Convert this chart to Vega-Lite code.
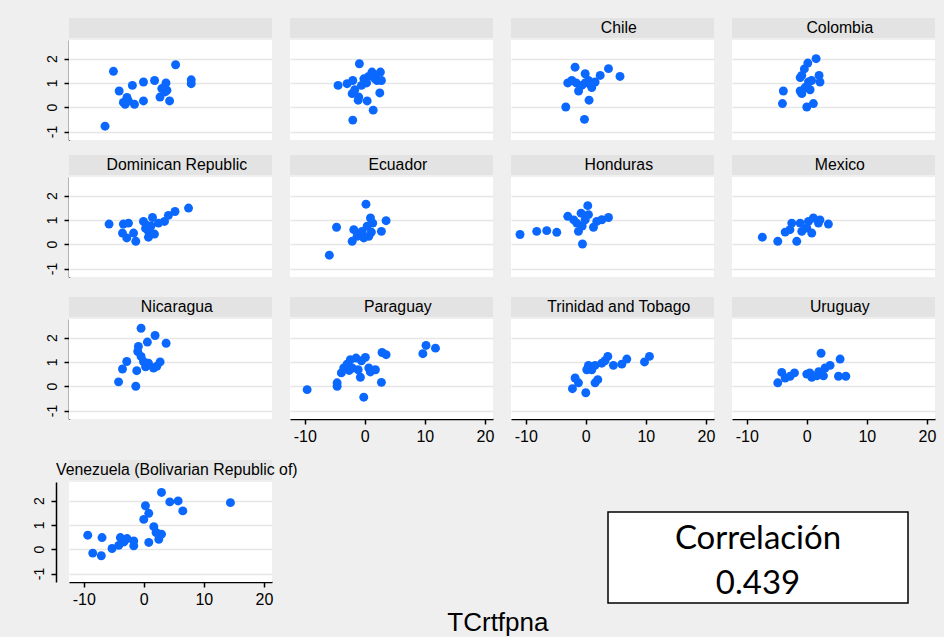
{
  "$schema": "https://vega.github.io/schema/vega-lite/v6.json",
  "background": "#efefef",
  "padding": {"left": 32, "top": 16, "right": 8, "bottom": 1},
  "title": {"text": "TCrtfpna", "orient": "bottom", "anchor": "middle", "font": "Liberation Sans", "fontSize": 26, "fontWeight": "normal", "color": "#000", "offset": 3, "dx": 14},
  "config": {
    "view": {"fill": "white", "stroke": null},
    "header": {"title": null, "labelExpr": "''", "labelFontSize": 1, "labelPadding": 0},
    "axis": {"domainColor": "#000", "domainWidth": 1.5, "tickColor": "#000", "tickWidth": 1.5, "tickSize": 5, "labelFont": "Liberation Sans", "labelColor": "#000", "gridColor": "#e6e6e6", "gridWidth": 1.5},
    "axisX": {"grid": false, "labelFontSize": 16, "labelPadding": 4},
    "axisY": {"grid": true, "labelFontSize": 14, "labelAngle": -90, "labelPadding": 5}
  },
  "datasets": {
    "puntos": [
      {"p": " ", "x": -6.45, "y": -0.78}, {"p": " ", "x": -5.05, "y": 1.48}, {"p": " ", "x": -4.1, "y": 0.67},
      {"p": " ", "x": -2.8, "y": 0.4}, {"p": " ", "x": -3.1, "y": 0.12}, {"p": " ", "x": -1.55, "y": 0.12},
      {"p": " ", "x": -1.9, "y": 0.9}, {"p": " ", "x": -0.05, "y": 1.04}, {"p": " ", "x": -0.05, "y": 0.26},
      {"p": " ", "x": 1.8, "y": 1.1}, {"p": " ", "x": 3.7, "y": 1.0}, {"p": " ", "x": 3.0, "y": 0.77},
      {"p": " ", "x": 2.7, "y": 0.42}, {"p": " ", "x": 3.55, "y": 0.63}, {"p": " ", "x": 4.3, "y": 0.26},
      {"p": " ", "x": 5.3, "y": 1.75}, {"p": " ", "x": 7.9, "y": 1.13}, {"p": " ", "x": 7.9, "y": 0.97},
      {"p": " ", "x": 3.85, "y": 0.7}, {"p": " ", "x": -2.55, "y": 0.26}, {"p": " ", "x": -3.4, "y": 0.2},

      {"p": "  ", "x": -0.9, "y": 1.79}, {"p": "  ", "x": -4.45, "y": 0.9}, {"p": "  ", "x": -2.95, "y": 0.97},
      {"p": "  ", "x": -2.0, "y": 1.1}, {"p": "  ", "x": -1.67, "y": 0.72}, {"p": "  ", "x": -2.1, "y": 0.56},
      {"p": "  ", "x": -1.0, "y": 0.42}, {"p": "  ", "x": -1.1, "y": 0.29}, {"p": "  ", "x": 0.4, "y": 0.26},
      {"p": "  ", "x": -2.0, "y": -0.53}, {"p": "  ", "x": 1.4, "y": -0.12}, {"p": "  ", "x": 2.5, "y": 0.59},
      {"p": "  ", "x": -0.15, "y": 1.17}, {"p": "  ", "x": 0.65, "y": 1.27}, {"p": "  ", "x": 1.2, "y": 1.45},
      {"p": "  ", "x": 1.77, "y": 1.31}, {"p": "  ", "x": 2.6, "y": 1.45}, {"p": "  ", "x": 2.77, "y": 1.1},
      {"p": "  ", "x": 2.05, "y": 1.1}, {"p": "  ", "x": -0.55, "y": 0.9}, {"p": "  ", "x": 0.3, "y": 1.0},
      {"p": "  ", "x": 1.7, "y": 1.17},

      {"p": "Chile", "x": -1.78, "y": 1.65}, {"p": "Chile", "x": -3.0, "y": 1.0}, {"p": "Chile", "x": -2.33, "y": 1.1},
      {"p": "Chile", "x": -0.1, "y": 1.38}, {"p": "Chile", "x": -1.2, "y": 0.67}, {"p": "Chile", "x": -0.67, "y": 0.9},
      {"p": "Chile", "x": 0.45, "y": 1.1}, {"p": "Chile", "x": 1.0, "y": 0.81}, {"p": "Chile", "x": 1.55, "y": 1.04},
      {"p": "Chile", "x": 2.4, "y": 1.31}, {"p": "Chile", "x": 3.78, "y": 1.59}, {"p": "Chile", "x": 5.7, "y": 1.27},
      {"p": "Chile", "x": 0.55, "y": 0.29}, {"p": "Chile", "x": -3.33, "y": 0.01}, {"p": "Chile", "x": -0.22, "y": -0.5},
      {"p": "Chile", "x": -0.1, "y": 1.0}, {"p": "Chile", "x": 0.7, "y": 0.95}, {"p": "Chile", "x": -1.6, "y": 1.0},

      {"p": "Colombia", "x": 1.55, "y": 2.0}, {"p": "Colombia", "x": 0.17, "y": 1.82}, {"p": "Colombia", "x": -0.4, "y": 1.58},
      {"p": "Colombia", "x": -0.83, "y": 1.31}, {"p": "Colombia", "x": -1.1, "y": 1.22}, {"p": "Colombia", "x": 2.05, "y": 1.31},
      {"p": "Colombia", "x": 2.2, "y": 1.04}, {"p": "Colombia", "x": 0.28, "y": 1.04}, {"p": "Colombia", "x": -0.28, "y": 0.81},
      {"p": "Colombia", "x": -1.1, "y": 0.67}, {"p": "Colombia", "x": 0.55, "y": 0.72}, {"p": "Colombia", "x": -3.9, "y": 0.67},
      {"p": "Colombia", "x": -4.05, "y": 0.15}, {"p": "Colombia", "x": 0.0, "y": 0.01}, {"p": "Colombia", "x": 1.1, "y": 0.15},
      {"p": "Colombia", "x": -0.83, "y": 0.56}, {"p": "Colombia", "x": 0.8, "y": 1.1},

      {"p": "Dominican Republic", "x": -5.78, "y": 0.83}, {"p": "Dominican Republic", "x": -3.4, "y": 0.83},
      {"p": "Dominican Republic", "x": -2.55, "y": 0.87}, {"p": "Dominican Republic", "x": -3.55, "y": 0.46},
      {"p": "Dominican Republic", "x": -2.83, "y": 0.26}, {"p": "Dominican Republic", "x": -1.7, "y": 0.46},
      {"p": "Dominican Republic", "x": -1.33, "y": 0.12}, {"p": "Dominican Republic", "x": -0.05, "y": 0.94},
      {"p": "Dominican Republic", "x": 0.5, "y": 0.78}, {"p": "Dominican Republic", "x": 1.45, "y": 1.1},
      {"p": "Dominican Republic", "x": 0.78, "y": 0.53}, {"p": "Dominican Republic", "x": 1.78, "y": 0.42},
      {"p": "Dominican Republic", "x": 0.78, "y": 0.29}, {"p": "Dominican Republic", "x": 2.45, "y": 0.87},
      {"p": "Dominican Republic", "x": 3.45, "y": 0.94}, {"p": "Dominican Republic", "x": 4.1, "y": 1.19},
      {"p": "Dominican Republic", "x": 5.2, "y": 1.35}, {"p": "Dominican Republic", "x": 7.45, "y": 1.49},
      {"p": "Dominican Republic", "x": 0.3, "y": 0.65}, {"p": "Dominican Republic", "x": 1.2, "y": 0.75},

      {"p": "Ecuador", "x": 0.2, "y": 1.65}, {"p": "Ecuador", "x": -5.9, "y": -0.45}, {"p": "Ecuador", "x": -4.7, "y": 0.7},
      {"p": "Ecuador", "x": -2.1, "y": 0.12}, {"p": "Ecuador", "x": -1.83, "y": 0.6}, {"p": "Ecuador", "x": -1.28, "y": 0.33},
      {"p": "Ecuador", "x": -0.45, "y": 0.53}, {"p": "Ecuador", "x": -0.17, "y": 0.26}, {"p": "Ecuador", "x": 0.67, "y": 0.33},
      {"p": "Ecuador", "x": 0.95, "y": 1.08}, {"p": "Ecuador", "x": 1.33, "y": 0.87}, {"p": "Ecuador", "x": 2.77, "y": 0.53},
      {"p": "Ecuador", "x": 3.55, "y": 0.97}, {"p": "Ecuador", "x": 0.4, "y": 0.74}, {"p": "Ecuador", "x": -0.8, "y": 0.4},
      {"p": "Ecuador", "x": 1.1, "y": 0.5},

      {"p": "Honduras", "x": -10.95, "y": 0.4}, {"p": "Honduras", "x": -8.17, "y": 0.53}, {"p": "Honduras", "x": -6.5, "y": 0.56},
      {"p": "Honduras", "x": -4.83, "y": 0.49}, {"p": "Honduras", "x": -3.0, "y": 1.15}, {"p": "Honduras", "x": 0.33, "y": 1.59},
      {"p": "Honduras", "x": -0.78, "y": 1.28}, {"p": "Honduras", "x": -1.5, "y": 0.87}, {"p": "Honduras", "x": -1.22, "y": 0.53},
      {"p": "Honduras", "x": -0.55, "y": 0.01}, {"p": "Honduras", "x": -0.1, "y": 1.01}, {"p": "Honduras", "x": 1.28, "y": 0.7},
      {"p": "Honduras", "x": 1.83, "y": 0.94}, {"p": "Honduras", "x": 2.67, "y": 1.01}, {"p": "Honduras", "x": 3.78, "y": 1.1},
      {"p": "Honduras", "x": 0.45, "y": 1.22}, {"p": "Honduras", "x": -2.0, "y": 1.0}, {"p": "Honduras", "x": -0.6, "y": 0.75},

      {"p": "Mexico", "x": -7.4, "y": 0.29}, {"p": "Mexico", "x": -4.83, "y": 0.12}, {"p": "Mexico", "x": -1.67, "y": 0.12},
      {"p": "Mexico", "x": -3.6, "y": 0.5}, {"p": "Mexico", "x": -2.5, "y": 0.87}, {"p": "Mexico", "x": -1.1, "y": 0.87},
      {"p": "Mexico", "x": 0.0, "y": 0.67}, {"p": "Mexico", "x": 1.1, "y": 1.08}, {"p": "Mexico", "x": 1.95, "y": 0.87},
      {"p": "Mexico", "x": 3.6, "y": 0.83}, {"p": "Mexico", "x": 0.83, "y": 0.46}, {"p": "Mexico", "x": -0.83, "y": 0.53},
      {"p": "Mexico", "x": -2.8, "y": 0.6}, {"p": "Mexico", "x": 2.2, "y": 1.0}, {"p": "Mexico", "x": 0.28, "y": 0.94},

      {"p": "Nicaragua", "x": -0.45, "y": 2.39}, {"p": "Nicaragua", "x": 1.88, "y": 2.09}, {"p": "Nicaragua", "x": 3.72, "y": 1.77},
      {"p": "Nicaragua", "x": 0.6, "y": 1.82}, {"p": "Nicaragua", "x": -0.9, "y": 1.64}, {"p": "Nicaragua", "x": -1.0, "y": 1.43},
      {"p": "Nicaragua", "x": -0.45, "y": 1.23}, {"p": "Nicaragua", "x": -2.83, "y": 1.02}, {"p": "Nicaragua", "x": -3.55, "y": 0.71},
      {"p": "Nicaragua", "x": -4.2, "y": 0.18}, {"p": "Nicaragua", "x": -1.33, "y": 0.0}, {"p": "Nicaragua", "x": -1.17, "y": 0.64},
      {"p": "Nicaragua", "x": -0.05, "y": 1.02}, {"p": "Nicaragua", "x": 0.78, "y": 0.95}, {"p": "Nicaragua", "x": 1.62, "y": 0.75},
      {"p": "Nicaragua", "x": 2.72, "y": 1.0}, {"p": "Nicaragua", "x": 2.17, "y": 0.82}, {"p": "Nicaragua", "x": 0.3, "y": 0.8},

      {"p": "Paraguay", "x": -9.6, "y": -0.14}, {"p": "Paraguay", "x": -4.6, "y": 0.14}, {"p": "Paraguay", "x": -4.6, "y": 0.0},
      {"p": "Paraguay", "x": -3.9, "y": 0.55}, {"p": "Paraguay", "x": -3.5, "y": 0.75}, {"p": "Paraguay", "x": -2.95, "y": 0.91},
      {"p": "Paraguay", "x": -2.4, "y": 1.09}, {"p": "Paraguay", "x": -1.45, "y": 1.16}, {"p": "Paraguay", "x": -0.55, "y": 1.05},
      {"p": "Paraguay", "x": 0.1, "y": 1.19}, {"p": "Paraguay", "x": -2.1, "y": 0.75}, {"p": "Paraguay", "x": -1.1, "y": 0.68},
      {"p": "Paraguay", "x": -0.73, "y": 0.37}, {"p": "Paraguay", "x": 0.67, "y": 0.75}, {"p": "Paraguay", "x": 1.77, "y": 0.68},
      {"p": "Paraguay", "x": 0.93, "y": 0.59}, {"p": "Paraguay", "x": -0.17, "y": -0.45}, {"p": "Paraguay", "x": 2.77, "y": 0.16},
      {"p": "Paraguay", "x": 2.88, "y": 1.39}, {"p": "Paraguay", "x": 3.55, "y": 1.3}, {"p": "Paraguay", "x": 9.67, "y": 1.34},
      {"p": "Paraguay", "x": 10.2, "y": 1.68}, {"p": "Paraguay", "x": 11.77, "y": 1.57}, {"p": "Paraguay", "x": -2.6, "y": 0.65},

      {"p": "Trinidad and Tobago", "x": -2.22, "y": -0.1}, {"p": "Trinidad and Tobago", "x": -1.78, "y": 0.34},
      {"p": "Trinidad and Tobago", "x": -1.22, "y": 0.14}, {"p": "Trinidad and Tobago", "x": 0.0, "y": -0.27},
      {"p": "Trinidad and Tobago", "x": 1.55, "y": 0.14}, {"p": "Trinidad and Tobago", "x": 2.0, "y": 0.27},
      {"p": "Trinidad and Tobago", "x": 0.17, "y": 0.68}, {"p": "Trinidad and Tobago", "x": 0.45, "y": 0.86},
      {"p": "Trinidad and Tobago", "x": 1.55, "y": 0.86}, {"p": "Trinidad and Tobago", "x": 2.67, "y": 0.95},
      {"p": "Trinidad and Tobago", "x": 3.67, "y": 1.23}, {"p": "Trinidad and Tobago", "x": 4.6, "y": 0.86},
      {"p": "Trinidad and Tobago", "x": 6.0, "y": 0.91}, {"p": "Trinidad and Tobago", "x": 6.83, "y": 1.12},
      {"p": "Trinidad and Tobago", "x": 9.78, "y": 1.0}, {"p": "Trinidad and Tobago", "x": 10.6, "y": 1.23},
      {"p": "Trinidad and Tobago", "x": 1.0, "y": 0.68}, {"p": "Trinidad and Tobago", "x": 3.2, "y": 1.05},

      {"p": "Uruguay", "x": -4.83, "y": 0.14}, {"p": "Uruguay", "x": -4.17, "y": 0.57}, {"p": "Uruguay", "x": -3.6, "y": 0.34},
      {"p": "Uruguay", "x": -2.05, "y": 0.55}, {"p": "Uruguay", "x": -2.78, "y": 0.41}, {"p": "Uruguay", "x": 0.0, "y": 0.5},
      {"p": "Uruguay", "x": 0.83, "y": 0.37}, {"p": "Uruguay", "x": 2.38, "y": 1.36}, {"p": "Uruguay", "x": 2.78, "y": 0.43},
      {"p": "Uruguay", "x": 3.05, "y": 0.75}, {"p": "Uruguay", "x": 3.88, "y": 0.86}, {"p": "Uruguay", "x": 5.55, "y": 1.12},
      {"p": "Uruguay", "x": 5.28, "y": 0.41}, {"p": "Uruguay", "x": 6.5, "y": 0.41}, {"p": "Uruguay", "x": 1.67, "y": 0.43},
      {"p": "Uruguay", "x": 2.0, "y": 0.6}, {"p": "Uruguay", "x": 0.5, "y": 0.55},

      {"p": "Venezuela (Bolivarian Republic of)", "x": -9.33, "y": 0.58}, {"p": "Venezuela (Bolivarian Republic of)", "x": -8.5, "y": -0.16},
      {"p": "Venezuela (Bolivarian Republic of)", "x": -6.95, "y": 0.48}, {"p": "Venezuela (Bolivarian Republic of)", "x": -7.07, "y": -0.27},
      {"p": "Venezuela (Bolivarian Republic of)", "x": -5.28, "y": 0.03}, {"p": "Venezuela (Bolivarian Republic of)", "x": -4.17, "y": 0.16},
      {"p": "Venezuela (Bolivarian Republic of)", "x": -3.9, "y": 0.48}, {"p": "Venezuela (Bolivarian Republic of)", "x": -2.78, "y": 0.44},
      {"p": "Venezuela (Bolivarian Republic of)", "x": -1.67, "y": 0.34}, {"p": "Venezuela (Bolivarian Republic of)", "x": -1.67, "y": 0.14},
      {"p": "Venezuela (Bolivarian Republic of)", "x": 0.0, "y": 1.23}, {"p": "Venezuela (Bolivarian Republic of)", "x": 0.28, "y": 1.79},
      {"p": "Venezuela (Bolivarian Republic of)", "x": 0.83, "y": 1.48}, {"p": "Venezuela (Bolivarian Republic of)", "x": 0.83, "y": 0.28},
      {"p": "Venezuela (Bolivarian Republic of)", "x": 1.67, "y": 0.93}, {"p": "Venezuela (Bolivarian Republic of)", "x": 2.05, "y": 0.69},
      {"p": "Venezuela (Bolivarian Republic of)", "x": 2.5, "y": 0.41}, {"p": "Venezuela (Bolivarian Republic of)", "x": 2.95, "y": 0.62},
      {"p": "Venezuela (Bolivarian Republic of)", "x": 2.95, "y": 2.34}, {"p": "Venezuela (Bolivarian Republic of)", "x": 4.33, "y": 1.95},
      {"p": "Venezuela (Bolivarian Republic of)", "x": 5.72, "y": 1.99}, {"p": "Venezuela (Bolivarian Republic of)", "x": 6.5, "y": 1.58},
      {"p": "Venezuela (Bolivarian Republic of)", "x": 14.43, "y": 1.92}, {"p": "Venezuela (Bolivarian Republic of)", "x": -3.3, "y": 0.3}
    ]
  },
  "vconcat": [
    {
      "data": {"name": "puntos"},
      "transform": [{"filter": {"field": "p", "oneOf": [" ", "  ", "Chile", "Colombia", "Dominican Republic", "Ecuador", "Honduras", "Mexico"]}}],
      "facet": {"field": "p", "type": "nominal", "sort": [" ", "  ", "Chile", "Colombia", "Dominican Republic", "Ecuador", "Honduras", "Mexico"]},
      "columns": 4,
      "spacing": {"row": 13, "column": 18},
      "spec": {
        "width": 203, "height": 100,
        "layer": [
          {"transform": [{"aggregate": [{"op": "count", "as": "n"}], "groupby": ["p"]}],
           "mark": {"type": "rect", "color": "#e3e3e3"},
           "encoding": {
             "x": {"datum": -12.45, "axis": null}, "x2": {"datum": 21.35},
             "y": {"datum": 2.85, "axis": {"title": null, "values": [-1, 0, 1, 2], "labelExpr": "'' + datum.value"}}, "y2": {"datum": 3.68}}},
          {"transform": [{"aggregate": [{"op": "count", "as": "n"}], "groupby": ["p"]}],
           "mark": {"type": "text", "font": "Liberation Sans", "fontSize": 15.8, "color": "#000", "baseline": "middle"},
           "encoding": {
             "x": {"datum": 5.5, "axis": null},
             "y": {"datum": 3.26, "axis": {"title": null, "values": [-1, 0, 1, 2], "labelExpr": "'' + datum.value"}},
             "text": {"field": "p"}}},
          {"mark": {"type": "circle", "size": 80, "color": "#0b68ff", "opacity": 1},
           "encoding": {
             "x": {"field": "x", "type": "quantitative", "scale": {"domain": [-12.45, 21.35], "nice": false, "zero": false}, "axis": null},
             "y": {"field": "y", "type": "quantitative", "scale": {"domain": [-1.35, 2.77], "nice": false, "zero": false}, "axis": {"title": null, "values": [-1, 0, 1, 2], "labelExpr": "'' + datum.value"}}}}
        ]
      }
    },
    {
      "spacing": 14,
      "vconcat": [
        {
          "spacing": 18,
          "hconcat": [
            {
              "data": {"name": "puntos"},
              "transform": [{"filter": {"field": "p", "equal": "Nicaragua"}}],
              "facet": {"field": "p", "type": "nominal"},
              "spec": {
                "width": 203, "height": 100,
                "layer": [
                  {"transform": [{"aggregate": [{"op": "count", "as": "n"}], "groupby": ["p"]}],
                   "mark": {"type": "rect", "color": "#e3e3e3"},
                   "encoding": {
                     "x": {"datum": -12.45, "axis": null}, "x2": {"datum": 21.35},
                     "y": {"datum": 2.85, "axis": {"title": null, "values": [-1, 0, 1, 2], "labelExpr": "'' + datum.value"}}, "y2": {"datum": 3.68}}},
                  {"transform": [{"aggregate": [{"op": "count", "as": "n"}], "groupby": ["p"]}],
                   "mark": {"type": "text", "font": "Liberation Sans", "fontSize": 15.8, "color": "#000", "baseline": "middle"},
                   "encoding": {
                     "x": {"datum": 5.5, "axis": null},
                     "y": {"datum": 3.26, "axis": {"title": null, "values": [-1, 0, 1, 2], "labelExpr": "'' + datum.value"}},
                     "text": {"field": "p"}}},
                  {"mark": {"type": "circle", "size": 80, "color": "#0b68ff", "opacity": 1},
                   "encoding": {
                     "x": {"field": "x", "type": "quantitative", "scale": {"domain": [-12.45, 21.35], "nice": false, "zero": false}, "axis": null},
                     "y": {"field": "y", "type": "quantitative", "scale": {"domain": [-1.35, 2.77], "nice": false, "zero": false}, "axis": {"title": null, "values": [-1, 0, 1, 2], "labelExpr": "'' + datum.value"}}}}
                ]
              }
            },
            {
              "data": {"name": "puntos"},
              "transform": [{"filter": {"field": "p", "oneOf": ["Paraguay", "Trinidad and Tobago", "Uruguay"]}}],
              "facet": {"field": "p", "type": "nominal", "sort": ["Paraguay", "Trinidad and Tobago", "Uruguay"]},
              "columns": 3,
              "spacing": 18,
              "spec": {
                "width": 203, "height": 100,
                "layer": [
                  {"transform": [{"aggregate": [{"op": "count", "as": "n"}], "groupby": ["p"]}],
                   "mark": {"type": "rect", "color": "#e3e3e3"},
                   "encoding": {
                     "x": {"datum": -12.45, "axis": {"title": null, "values": [-10, 0, 10, 20], "labelExpr": "'' + datum.value"}}, "x2": {"datum": 21.35},
                     "y": {"datum": 2.85, "axis": {"title": null, "values": [-1, 0, 1, 2], "labels": false, "ticks": false, "domain": false}}, "y2": {"datum": 3.68}}},
                  {"transform": [{"aggregate": [{"op": "count", "as": "n"}], "groupby": ["p"]}],
                   "mark": {"type": "text", "font": "Liberation Sans", "fontSize": 15.8, "color": "#000", "baseline": "middle"},
                   "encoding": {
                     "x": {"datum": 5.5, "axis": {"title": null, "values": [-10, 0, 10, 20], "labelExpr": "'' + datum.value"}},
                     "y": {"datum": 3.26, "axis": {"title": null, "values": [-1, 0, 1, 2], "labels": false, "ticks": false, "domain": false}},
                     "text": {"field": "p"}}},
                  {"mark": {"type": "circle", "size": 80, "color": "#0b68ff", "opacity": 1},
                   "encoding": {
                     "x": {"field": "x", "type": "quantitative", "scale": {"domain": [-12.45, 21.35], "nice": false, "zero": false}, "axis": {"title": null, "values": [-10, 0, 10, 20], "labelExpr": "'' + datum.value"}},
                     "y": {"field": "y", "type": "quantitative", "scale": {"domain": [-1.35, 2.77], "nice": false, "zero": false}, "axis": {"title": null, "values": [-1, 0, 1, 2], "labels": false, "ticks": false, "domain": false}}}}
                ]
              }
            }
          ]
        },
        {
          "spacing": 309,
          "hconcat": [
            {
              "data": {"name": "puntos"},
              "transform": [{"filter": {"field": "p", "equal": "Venezuela (Bolivarian Republic of)"}}],
              "facet": {"field": "p", "type": "nominal"},
              "spec": {
                "width": 203, "height": 100,
                "layer": [
                  {"transform": [{"aggregate": [{"op": "count", "as": "n"}], "groupby": ["p"]}],
                   "mark": {"type": "rect", "color": "#e6e6e6"},
                   "encoding": {
                     "x": {"datum": -12.45, "axis": {"title": null, "values": [-10, 0, 10, 20], "labelExpr": "'' + datum.value"}}, "x2": {"datum": 21.35},
                     "y": {"datum": 2.85, "axis": {"title": null, "values": [-1, 0, 1, 2], "labelExpr": "'' + datum.value"}}, "y2": {"datum": 3.68}}},
                  {"transform": [{"aggregate": [{"op": "count", "as": "n"}], "groupby": ["p"]}],
                   "mark": {"type": "text", "font": "Liberation Sans", "fontSize": 15.8, "color": "#000", "baseline": "middle"},
                   "encoding": {
                     "x": {"datum": 5.5, "axis": {"title": null, "values": [-10, 0, 10, 20], "labelExpr": "'' + datum.value"}},
                     "y": {"datum": 3.26, "axis": {"title": null, "values": [-1, 0, 1, 2], "labelExpr": "'' + datum.value"}},
                     "text": {"field": "p"}}},
                  {"mark": {"type": "circle", "size": 80, "color": "#0b68ff", "opacity": 1},
                   "encoding": {
                     "x": {"field": "x", "type": "quantitative", "scale": {"domain": [-12.45, 21.35], "nice": false, "zero": false}, "axis": {"title": null, "values": [-10, 0, 10, 20], "labelExpr": "'' + datum.value"}},
                     "y": {"field": "y", "type": "quantitative", "scale": {"domain": [-1.35, 2.77], "nice": false, "zero": false}, "axis": {"title": null, "values": [-1, 0, 1, 2], "labelExpr": "'' + datum.value"}}}}
                ]
              }
            },
            {
              "spacing": 28,
              "vconcat": [
                {
                  "data": {"values": []},
                  "width": 300, "height": 1,
                  "view": {"fill": null, "stroke": null},
                  "mark": "point",
                  "encoding": {}
                },
                {
                  "data": {"values": [{"fila": 1, "t": "Correlación"}, {"fila": 2, "t": "0.439"}]},
                  "width": 300, "height": 91,
                  "view": {"fill": "white", "stroke": "#000", "strokeWidth": 1.5},
                  "mark": {"type": "text", "font": "Lato", "fontSize": 33, "color": "#000", "baseline": "middle", "dy": 4},
                  "encoding": {
                    "y": {"field": "fila", "type": "ordinal", "scale": {"type": "point", "padding": 0.5}, "axis": null},
                    "text": {"field": "t"}
                  }
                }
              ]
            }
          ]
        }
      ]
    }
  ],
  "spacing": 18
}
